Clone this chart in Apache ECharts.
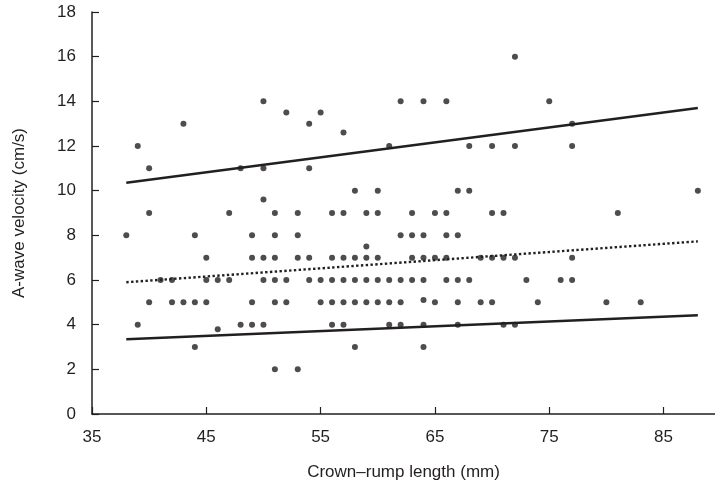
<!DOCTYPE html>
<html><head><meta charset="utf-8">
<script src="https://cdn.jsdelivr.net/npm/echarts@6/dist/echarts.min.js"></script>
<style>html,body{margin:0;padding:0;background:#fff}#c{width:715px;height:496px}</style>
</head><body><div id="c"></div>
<script>
const crl = [39,40,43,50,52,48,50,50,40,47,51,53,
54,55,57,62,64,66,61,68,70,54,58,60,67,68,
56,57,59,60,63,65,66,70,
72,75,77,72,77,88,71,81,
38,44,49,51,53,62,63,64,66,67,
59,
45,49,50,51,53,54,56,57,58,59,60,63,64,65,66,69,70,71,72,77,
41,42,45,46,47,50,51,52,54,55,56,57,58,59,60,61,62,63,64,66,67,68,73,76,77,
40,42,43,44,45,49,51,52,55,56,57,58,59,60,61,62,64,65,67,69,70,74,80,83,
39,46,48,49,50,56,57,61,62,64,67,71,72,
44,58,64,
51,53];
const velocity = [12,11,13,14,13.5,11,11,9.6,9,9,9,9,
13,13.5,12.6,14,14,14,12,12,12,11,10,10,10,10,
9,9,9,9,9,9,9,9,
16,14,13,12,12,10,9,9,
8,8,8,8,8,8,8,8,8,8,
7.5,
7,7,7,7,7,7,7,7,7,7,7,7,7,7,7,7,7,7,7,7,
6,6,6,6,6,6,6,6,6,6,6,6,6,6,6,6,6,6,6,6,6,6,6,6,6,
5,5,5,5,5,5,5,5,5,5,5,5,5,5,5,5,5.1,5,5,5,5,5,5,5,
4,3.8,4,4,4,4,4,4,4,4,4,4,4,
3,3,3,
2,2];
const xTicks = [35,45,55,65,75,85];
const yTicks = [0,2,4,6,8,10,12,14,16,18];
const upperLine = [[38,10.35],[88,13.7]];
const meanLine = [[38,5.9],[88,7.73]];
const lowerLine = [[38,3.35],[88,4.42]];

const points = crl.map((x,i)=>[x, velocity[i]]);
const ink = '#231f20';
const font = 'Liberation Sans, Arial, sans-serif';
const chart = echarts.init(document.getElementById('c'), null, {renderer:'canvas'});
chart.setOption({
  animation:false,
  grid:{left:92, right:0, top:12, bottom:82},
  xAxis:{type:'value', min:xTicks[0], max:89.5, interval:10,
    name:'Crown\u2013rump length (mm)', nameLocation:'middle', nameGap:50,
    nameTextStyle:{color:ink, fontSize:17, fontFamily:font},
    axisLine:{lineStyle:{color:ink, width:1.5}},
    axisTick:{inside:true, length:7, lineStyle:{color:ink, width:1.2}},
    axisLabel:{color:ink, fontSize:17, fontFamily:font, margin:15, showMaxLabel:false},
    splitLine:{show:false}},
  yAxis:{type:'value', min:yTicks[0], max:yTicks[yTicks.length-1], interval:2,
    name:'A-wave velocity (cm/s)', nameLocation:'middle', nameGap:64,
    nameTextStyle:{color:ink, fontSize:17, fontFamily:font},
    axisLine:{show:true, lineStyle:{color:ink, width:1.5}},
    axisTick:{show:true, inside:true, length:7, lineStyle:{color:ink, width:1.2}},
    axisLabel:{color:ink, fontSize:17, fontFamily:font, margin:16},
    splitLine:{show:false}},
  series:[
    {type:'scatter', data:points, symbol:'circle', symbolSize:6, itemStyle:{color:ink}},
    {type:'line', data:upperLine, symbol:'none', lineStyle:{color:ink, width:2.5}},
    {type:'line', data:meanLine, symbol:'none', lineStyle:{color:ink, width:2.4, type:[2.4,2.4]}},
    {type:'line', data:lowerLine, symbol:'none', lineStyle:{color:ink, width:2.5}}
  ]
});
</script></body></html>
